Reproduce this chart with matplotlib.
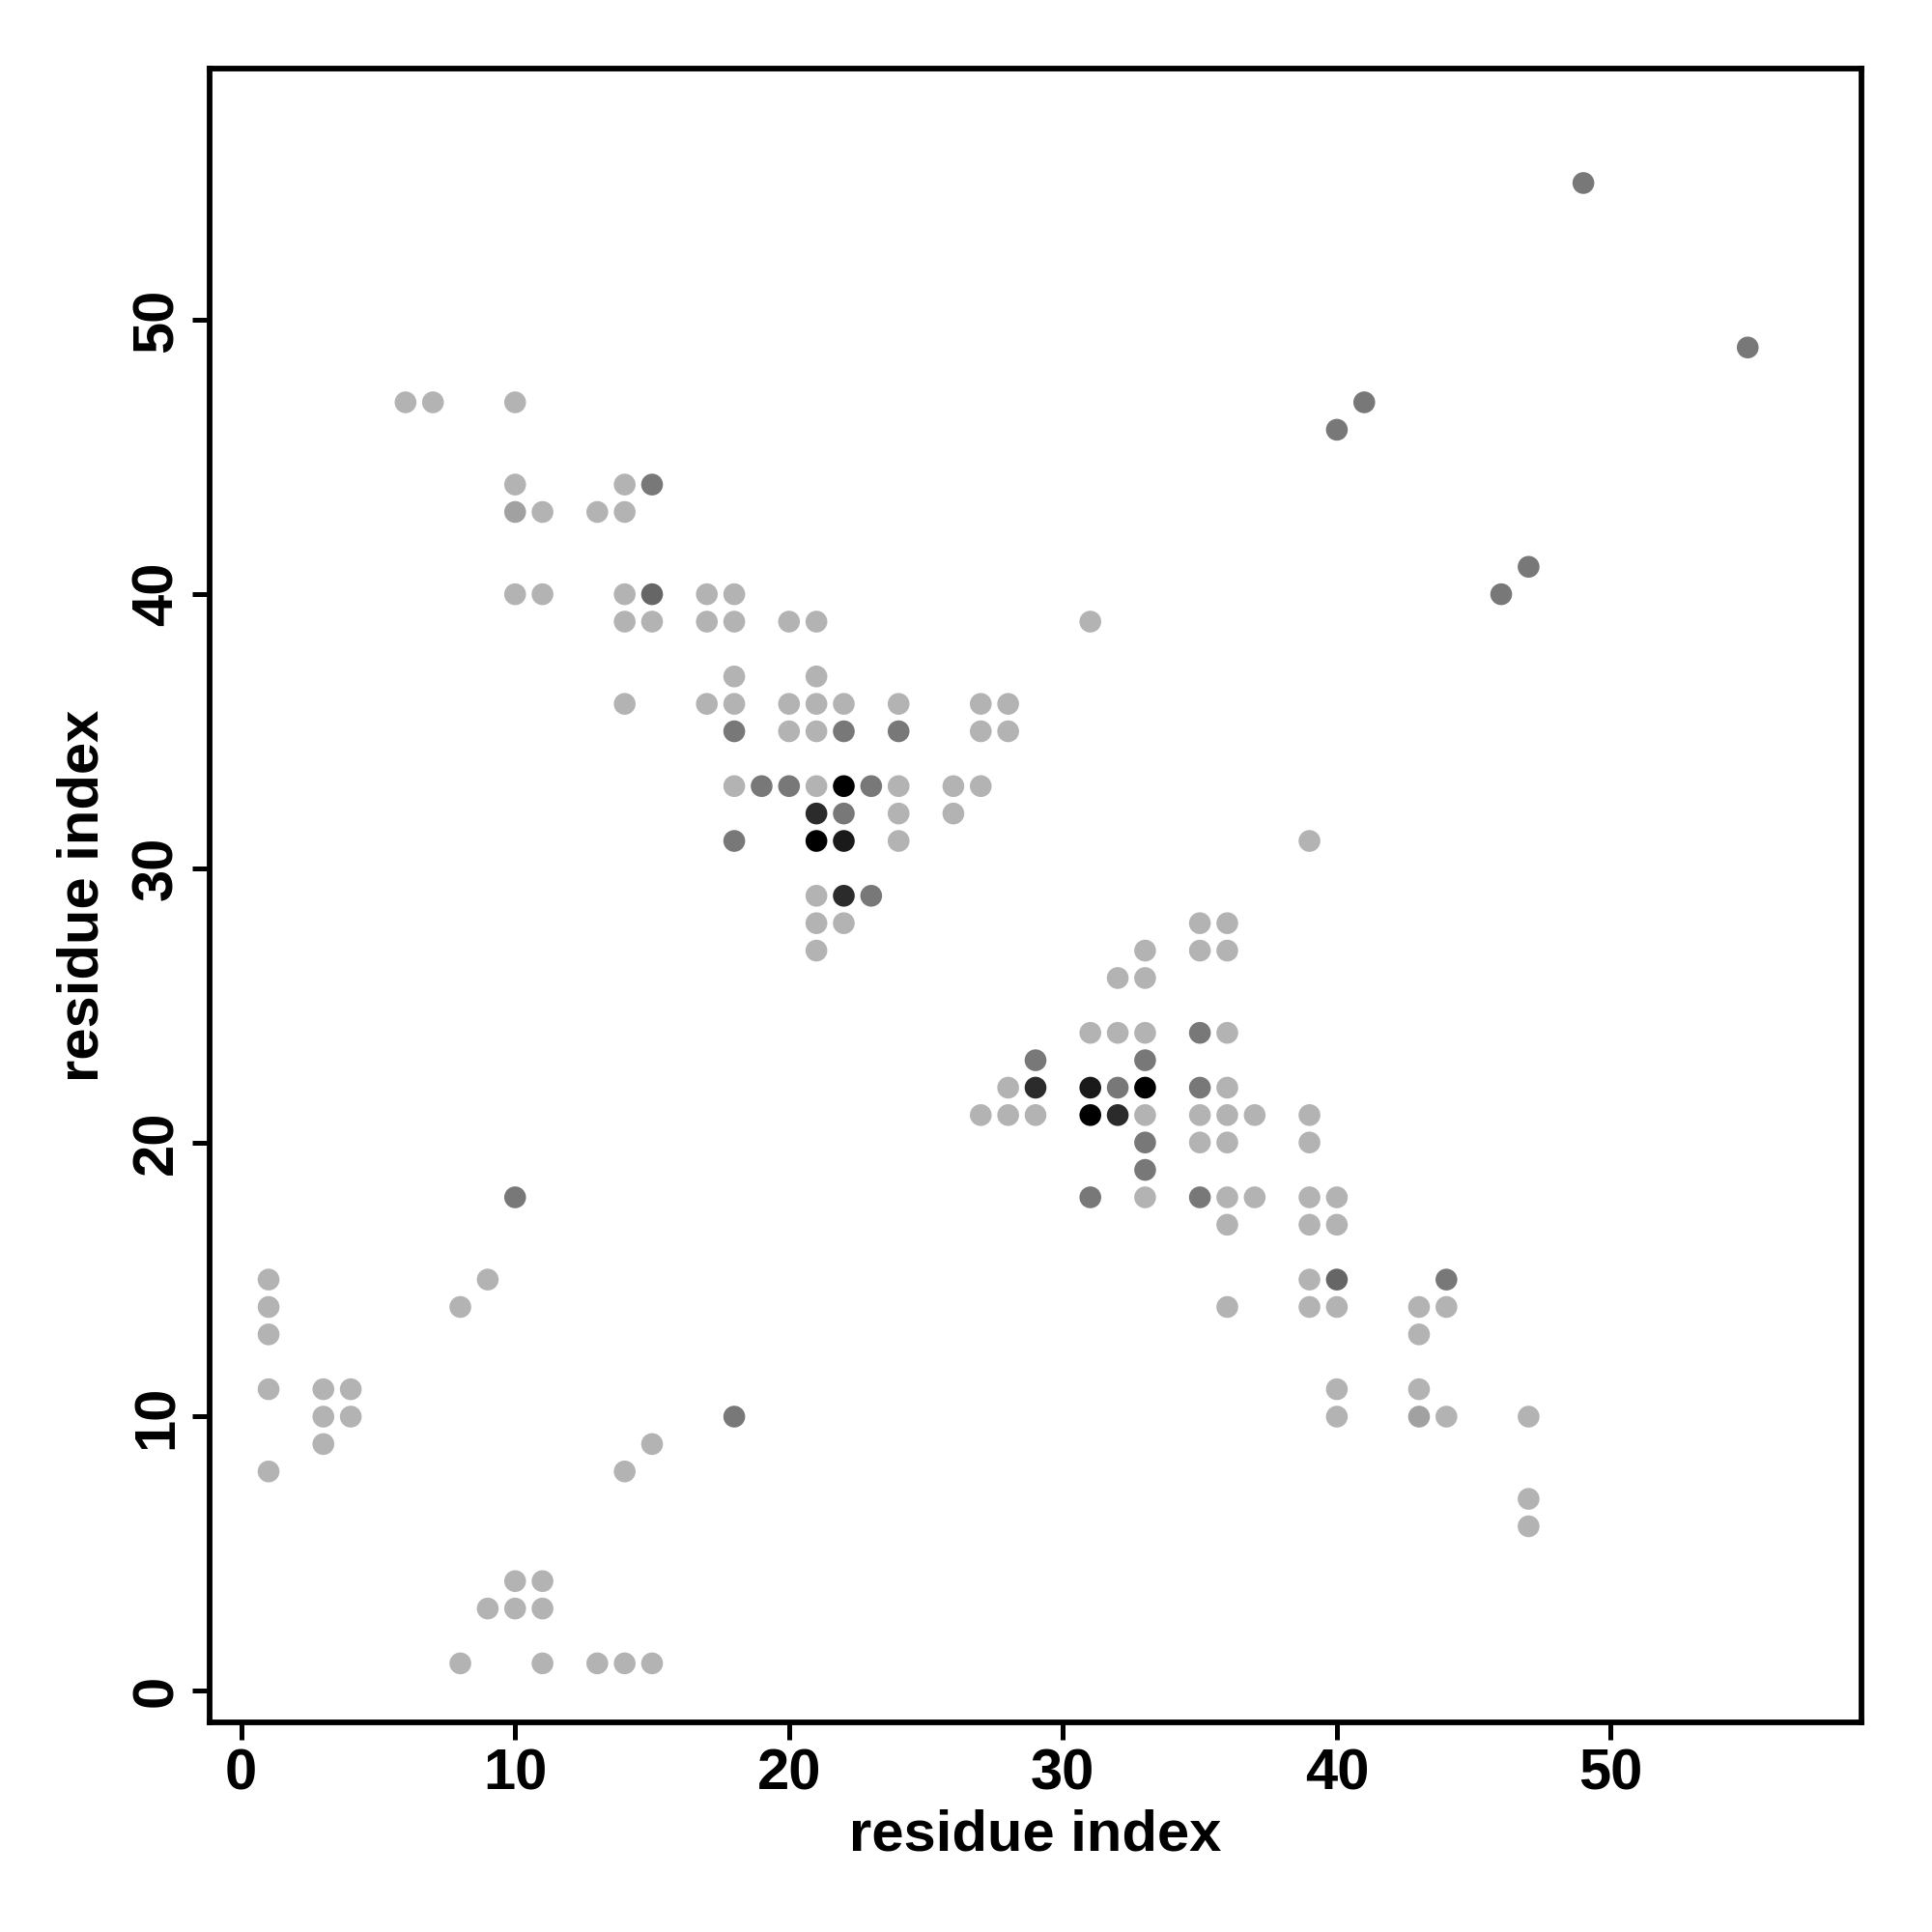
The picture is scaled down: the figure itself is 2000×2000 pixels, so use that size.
import numpy as np
import matplotlib
matplotlib.use("Agg")
import matplotlib.pyplot as plt

# contact points: residue i, residue j, shade (grey level, 0 = black)
L, M, D, E, V, N, K = 0.70, 0.63, 0.47, 0.40, 0.17, 0.10, 0.0

res_x = [49, 55,
         6, 7, 10, 41,
         40,
         10, 14, 15,
         10, 11, 13, 14,
         47,
         10, 11, 14, 15, 17, 18, 46,
         14, 15, 17, 18, 20, 21, 31,
         18, 21,
         14, 17, 18, 20, 21, 22, 24, 27, 28,
         18, 20, 21, 22, 24, 27, 28,
         18, 19, 20, 21, 22, 23, 24, 26, 27,
         21, 22, 24, 26,
         18, 21, 22, 24, 39,
         21, 22, 23,
         21, 22, 35, 36,
         21, 33, 35, 36,
         32, 33,
         31, 32, 33, 35, 36,
         29, 33,
         28, 29, 31, 32, 33, 35, 36,
         27, 28, 29, 31, 32, 33, 35, 36, 37, 39,
         33, 35, 36, 39,
         33,
         10, 31, 33, 35, 36, 37, 39, 40,
         36, 39, 40,
         1, 9, 39, 40, 44,
         1, 8, 36, 39, 40, 43, 44,
         1, 43,
         1, 3, 4, 40, 43,
         3, 4, 18, 40, 43, 44, 47,
         3, 15,
         1, 14,
         47,
         47,
         10, 11,
         9, 10, 11,
         8, 11, 13, 14, 15]

res_y = [55, 49,
         47, 47, 47, 47,
         46,
         44, 44, 44,
         43, 43, 43, 43,
         41,
         40, 40, 40, 40, 40, 40, 40,
         39, 39, 39, 39, 39, 39, 39,
         37, 37,
         36, 36, 36, 36, 36, 36, 36, 36, 36,
         35, 35, 35, 35, 35, 35, 35,
         33, 33, 33, 33, 33, 33, 33, 33, 33,
         32, 32, 32, 32,
         31, 31, 31, 31, 31,
         29, 29, 29,
         28, 28, 28, 28,
         27, 27, 27, 27,
         26, 26,
         24, 24, 24, 24, 24,
         23, 23,
         22, 22, 22, 22, 22, 22, 22,
         21, 21, 21, 21, 21, 21, 21, 21, 21, 21,
         20, 20, 20, 20,
         19,
         18, 18, 18, 18, 18, 18, 18, 18,
         17, 17, 17,
         15, 15, 15, 15, 15,
         14, 14, 14, 14, 14, 14, 14,
         13, 13,
         11, 11, 11, 11, 11,
         10, 10, 10, 10, 10, 10, 10,
         9, 9,
         8, 8,
         7,
         6,
         4, 4,
         3, 3, 3,
         1, 1, 1, 1, 1]

shade = [D, D,
         L, L, L, D,
         D,
         L, L, D,
         M, L, L, L,
         D,
         L, L, L, E, L, L, D,
         L, L, L, L, L, L, L,
         L, L,
         L, L, L, L, L, L, L, L, L,
         D, L, L, D, D, L, L,
         L, D, D, L, K, D, L, L, L,
         V, D, L, L,
         D, K, N, L, L,
         L, V, D,
         L, L, L, L,
         L, L, L, L,
         L, L,
         L, L, L, D, L,
         D, D,
         L, V, N, D, K, D, L,
         L, L, L, K, V, L, L, L, L, L,
         D, L, L, L,
         D,
         D, D, L, D, L, L, L, L,
         L, L, L,
         L, L, L, E, D,
         L, L, L, L, L, L, L,
         L, L,
         L, L, L, L, L,
         L, L, D, L, M, L, L,
         L, L,
         L, L,
         L,
         L,
         L, L,
         L, L, L,
         L, L, L, L, L]

plt.rcParams['font.family'] = ['Liberation Sans', 'DejaVu Sans']
plt.rcParams['font.weight'] = 'bold'

fig = plt.figure(figsize=(10, 10), dpi=200)
ax = fig.add_axes([0.1084, 0.1084, 0.8552, 0.8559])

colors = [str(s) for s in shade]
ax.scatter(res_x, res_y, c=colors, s=66, linewidths=0, zorder=3)

ax.set_xlim(-1.16, 59.16)
ax.set_ylim(-1.16, 59.16)
ax.set_xticks(np.arange(0, 51, 10))
ax.set_yticks(np.arange(0, 51, 10))
ax.tick_params(direction='out', length=6.5, width=1.8, labelsize=21.5, pad=3)
for lab in ax.get_yticklabels():
    lab.set_rotation(90)
    lab.set_va('center')
for sp in ax.spines.values():
    sp.set_linewidth(2.1)

ax.set_xlabel('residue index', fontsize=21.5, fontweight='bold', labelpad=3)
ax.set_ylabel('residue index', fontsize=21.5, fontweight='bold', labelpad=8)

fig.savefig('out.png', dpi=200, facecolor='white')
